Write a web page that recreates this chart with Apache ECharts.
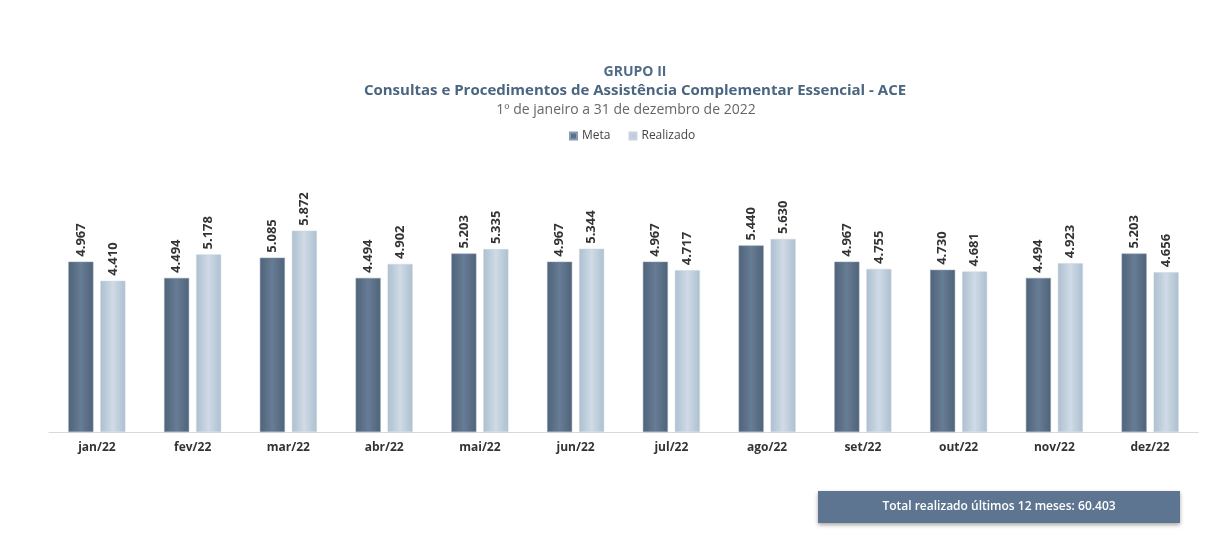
<!DOCTYPE html>
<html>
<head>
<meta charset="utf-8">
<script src="https://cdn.jsdelivr.net/npm/echarts@6/dist/echarts.min.js"></script>
<style>
html,body{margin:0;padding:0;background:#ffffff;}
#chart{width:1206px;height:554px;}
</style>
</head>
<body>
<div id="chart"></div>
<script>
var categories = ['jan/22','fev/22','mar/22','abr/22','mai/22','jun/22','jul/22','ago/22','set/22','out/22','nov/22','dez/22'];
var meta = [4967, 4494, 5085, 4494, 5203, 4967, 4967, 5440, 4967, 4730, 4494, 5203];
var realizado = [4410, 5178, 5872, 4902, 5335, 5344, 4717, 5630, 4755, 4681, 4923, 4656];

function fmt(v){
  return String(v).replace(/\B(?=(\d{3})+(?!\d))/g, '.');
}
var total = realizado.reduce(function(a,b){return a+b;},0);

var font = '"Open Sans", Lato, sans-serif';
var chart = echarts.init(document.getElementById('chart'));

function grad(edge, mid){
  return new echarts.graphic.LinearGradient(0,0,1,0,[
    {offset:0,color:edge},{offset:0.5,color:mid},{offset:1,color:edge}
  ]);
}

var labelCfg = {
  show:true, position:'top', rotate:90, align:'left', verticalAlign:'middle',
  distance:5, fontFamily:font, fontSize:13, fontWeight:'bold', color:'#333',
  formatter:function(p){return fmt(p.value);}
};

chart.setOption({
  backgroundColor:'#ffffff',
  title:[
    {text:'GRUPO II', left:630, textAlign:'center', top:60, textStyle:{fontFamily:font,fontSize:14,fontWeight:'bold',color:'#4f6b88'}},
    {text:'Consultas e Procedimentos de Assistência Complementar Essencial - ACE', left:630, textAlign:'center', top:78, textStyle:{fontFamily:font,fontSize:15,fontWeight:'bold',color:'#4a6580'}},
    {text:'1º de janeiro a 31 de dezembro de 2022', left:621, textAlign:'center', top:98, textStyle:{fontFamily:font,fontSize:14,fontWeight:'normal',color:'#666'}}
  ],
  legend:{
    top:125, left:564, itemWidth:7, itemHeight:7, itemGap:18,
    icon:'rect',
    textStyle:{fontFamily:font,fontSize:12,color:'#444'},
    data:[{name:'Meta',itemStyle:{color:'#5b7189'}},{name:'Realizado',itemStyle:{color:'#bccddc'}}]
  },
  grid:{left:49,right:8,top:192,bottom:122},
  xAxis:{
    type:'category', data:categories,
    axisLine:{lineStyle:{color:'#d9d9d9'}},
    axisTick:{show:false},
    axisLabel:{fontFamily:font,fontSize:12,fontWeight:'bold',color:'#333',margin:10}
  },
  yAxis:{type:'value',min:0,max:7000,show:false,splitLine:{show:false}},
  series:[
    {name:'Meta',type:'bar',data:meta,barWidth:25,barGap:'28%',
     itemStyle:{color:grad('#4f6379','#677d95'),borderColor:'#8a9bb0',borderWidth:0.5},
     label:labelCfg},
    {name:'Realizado',type:'bar',data:realizado,barWidth:25,
     itemStyle:{color:grad('#adbfd0','#cfdbe6'),borderColor:'#c9d4de',borderWidth:0.5},
     label:labelCfg}
  ],
  graphic:[
    {type:'rect', x:818, y:491, shape:{width:362,height:32},
     style:{fill:'#5d7590', shadowBlur:4, shadowColor:'rgba(0,0,0,0.35)', shadowOffsetY:2}},
    {type:'text', x:999, y:507, z:10,
     style:{text:'Total realizado últimos 12 meses: '+fmt(total), fill:'#ffffff',
            font:'600 12px '+font, align:'center', verticalAlign:'middle'}}
  ]
});
</script>
</body>
</html>
